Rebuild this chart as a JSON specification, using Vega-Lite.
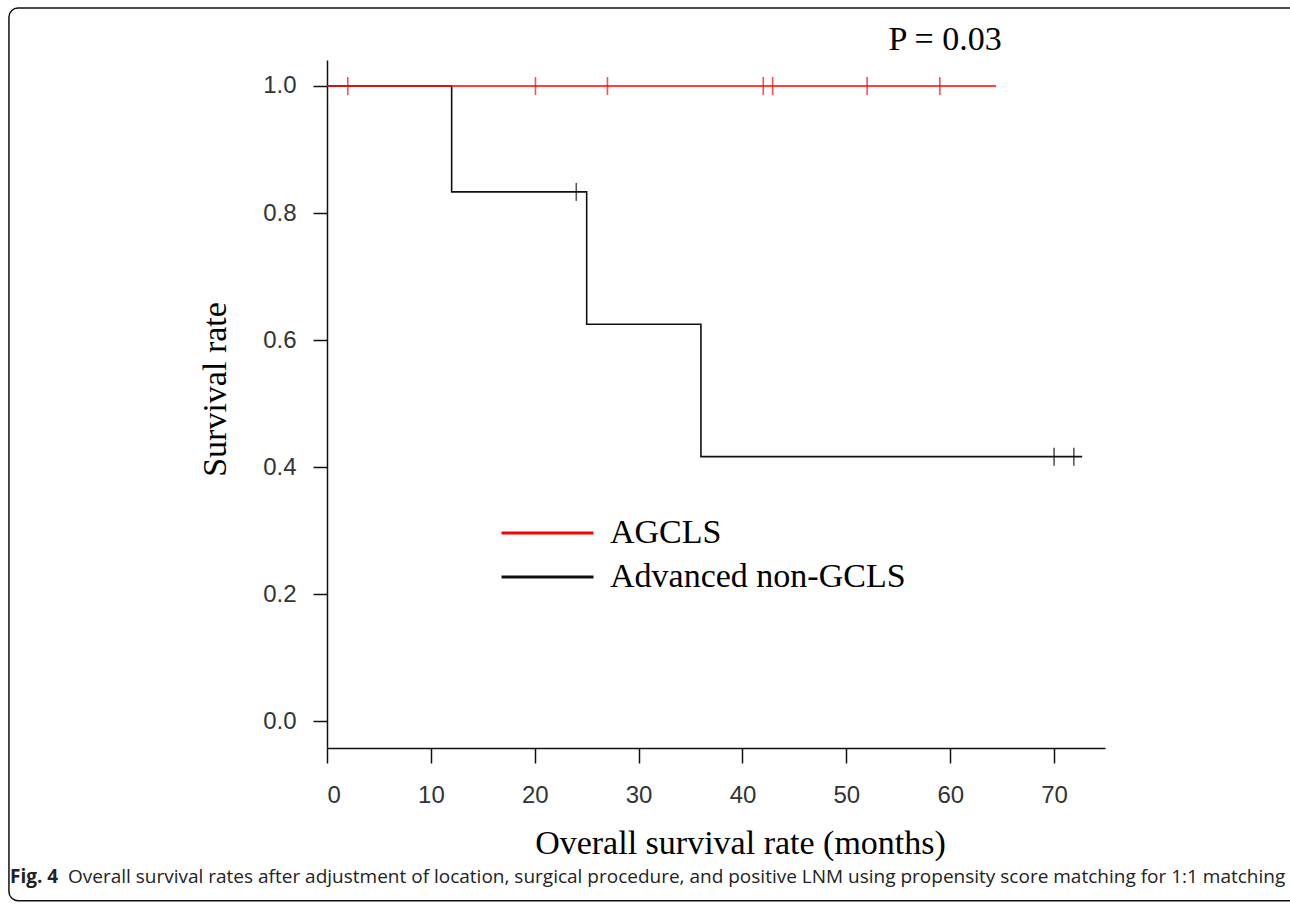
{
  "$schema": "https://vega.github.io/schema/vega-lite/v6.json",
  "width": 778,
  "height": 688,
  "autosize": {"type": "none"},
  "padding": {"left": 327, "top": 60, "right": 185, "bottom": 156},
  "background": "white",
  "config": {
    "view": {"stroke": null},
    "axis": {"grid": false, "domainColor": "#111", "domainWidth": 1.5, "tickColor": "#111", "tickWidth": 1.5,
      "labelFont": "Liberation Sans", "labelFontSize": 24, "labelColor": "#333",
      "titleFont": "Liberation Serif", "titleFontSize": 34, "titleFontWeight": "normal", "titleColor": "#000"},
    "legend": {"orient": "none", "legendX": 173, "legendY": 451, "padding": 0, "symbolType": "stroke",
      "symbolSize": 8464, "symbolStrokeWidth": 3, "symbolOpacity": 1, "labelFont": "Liberation Serif", "labelFontSize": 34,
      "labelColor": "#000", "labelOffset": 15, "labelLimit": 600, "clipHeight": 44, "rowPadding": 0, "title": null}
  },
  "datasets": {
    "curves": [
      {"group": "AGCLS", "time": 0, "surv": 1},
      {"group": "AGCLS", "time": 64.4, "surv": 1},
      {"group": "Advanced non-GCLS", "time": 0, "surv": 1},
      {"group": "Advanced non-GCLS", "time": 12, "surv": 0.8333},
      {"group": "Advanced non-GCLS", "time": 25, "surv": 0.625},
      {"group": "Advanced non-GCLS", "time": 36, "surv": 0.4167},
      {"group": "Advanced non-GCLS", "time": 72.7, "surv": 0.4167}
    ],
    "censored": [
      {"group": "AGCLS", "time": 2, "surv": 1},
      {"group": "AGCLS", "time": 20.07, "surv": 1},
      {"group": "AGCLS", "time": 27, "surv": 1},
      {"group": "AGCLS", "time": 42, "surv": 1},
      {"group": "AGCLS", "time": 42.9, "surv": 1},
      {"group": "AGCLS", "time": 52, "surv": 1},
      {"group": "AGCLS", "time": 59, "surv": 1},
      {"group": "Advanced non-GCLS", "time": 24, "surv": 0.8333},
      {"group": "Advanced non-GCLS", "time": 70, "surv": 0.4167},
      {"group": "Advanced non-GCLS", "time": 71.9, "surv": 0.4167}
    ],
    "note": [{"label": "P = 0.03"}]
  },
  "layer": [
    {
      "data": {"name": "note"},
      "mark": {"type": "rect", "fill": null, "fillOpacity": 0, "stroke": "#111", "strokeWidth": 1.5, "cornerRadius": 9},
      "encoding": {
        "x": {"datum": -30.62, "type": "quantitative", "scale": {"domain": [0, 74.9], "nice": false, "zero": false},
          "axis": {"values": [0, 10, 20, 30, 40, 50, 60, 70], "tickSize": 15, "labelPadding": 20,
            "title": "Overall survival rate (months)", "titleX": 413, "titleY": 105, "titleBaseline": "alphabetic", "titleAnchor": "start", "titleAlign": "center"}},
        "x2": {"datum": 93.7},
        "y": {"datum": 1.1227, "type": "quantitative", "scale": {"domain": [-0.0418, 1.0409], "nice": false, "zero": false},
          "axis": {"values": [0, 0.2, 0.4, 0.6, 0.8, 1.0], "format": ".1f", "tickSize": 14, "labelPadding": 17,
            "title": "Survival rate", "titleAngle": -90, "titleX": -102, "titleY": 329, "titleAlign": "center", "titleBaseline": "alphabetic"}},
        "y2": {"datum": -0.2821}
      }
    },
    {
      "data": {"name": "curves"},
      "transform": [{"filter": "datum.group === 'Advanced non-GCLS'"}],
      "mark": {"type": "line", "interpolate": "step-after", "strokeWidth": 1.6},
      "encoding": {
        "x": {"field": "time", "type": "quantitative"},
        "y": {"field": "surv", "type": "quantitative"},
        "color": {"field": "group", "type": "nominal",
          "scale": {"domain": ["AGCLS", "Advanced non-GCLS"], "range": ["#ff0000", "#111111"]},
          "legend": {"symbolType": "stroke", "title": null}},
        "order": {"field": "time"}
      }
    },
    {
      "data": {"name": "curves"},
      "transform": [{"filter": "datum.group === 'AGCLS'"}],
      "mark": {"type": "line", "interpolate": "step-after", "strokeWidth": 1.6},
      "encoding": {
        "x": {"field": "time", "type": "quantitative"},
        "y": {"field": "surv", "type": "quantitative"},
        "color": {"field": "group", "type": "nominal"},
        "order": {"field": "time"}
      }
    },
    {
      "data": {"name": "censored"},
      "mark": {"type": "tick", "orient": "vertical", "size": 18, "thickness": 1.6},
      "encoding": {
        "x": {"field": "time", "type": "quantitative"},
        "y": {"field": "surv", "type": "quantitative"},
        "color": {"field": "group", "type": "nominal"}
      }
    },
    {
      "data": {"name": "note"},
      "mark": {"type": "text", "font": "Liberation Serif", "fontSize": 34, "color": "#000", "align": "center", "baseline": "alphabetic"},
      "encoding": {
        "text": {"field": "label"},
        "x": {"datum": 59.5, "type": "quantitative"},
        "y": {"datum": 1.0566, "type": "quantitative"}
      }
    },
    {
      "data": {"values": [{"label": "Fig. 4"}]},
      "mark": {"type": "text", "font": "Open Sans", "fontSize": 19, "fontWeight": "bold", "color": "#222", "align": "left", "baseline": "alphabetic"},
      "encoding": {
        "text": {"field": "label"},
        "x": {"datum": -30.52, "type": "quantitative"},
        "y": {"datum": -0.2537, "type": "quantitative"}
      }
    },
    {
      "data": {"values": [{"label": "Overall survival rates after adjustment of location, surgical procedure, and positive LNM using propensity score matching for 1:1 matching"}]},
      "mark": {"type": "text", "font": "Open Sans", "fontSize": 19, "color": "#222", "align": "left", "baseline": "alphabetic", "limit": 1300},
      "encoding": {
        "text": {"field": "label"},
        "x": {"datum": -24.94, "type": "quantitative"},
        "y": {"datum": -0.2537, "type": "quantitative"}
      }
    }
  ]
}
